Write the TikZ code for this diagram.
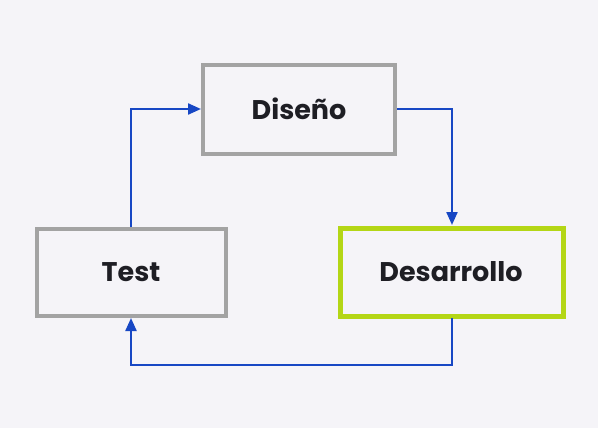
\documentclass[tikz,border=0pt]{standalone}
\usepackage{fontspec}
\setmainfont{Poppins}
\usetikzlibrary{arrows.meta}
\definecolor{bg}{HTML}{F5F4F8}
\definecolor{boxgray}{HTML}{A3A3A3}
\definecolor{limeg}{HTML}{B4D616}
\definecolor{flow}{HTML}{1747C4}
\definecolor{txt}{HTML}{1E1E24}
\tikzset{
  stagebox/.style={draw=boxgray, line width=4pt, fill=bg, inner sep=0pt},
  activebox/.style={draw=limeg, line width=5pt, fill=bg, inner sep=0pt},
  lbl/.style={font=\bfseries\fontsize{27}{32}\selectfont, text=txt},
  flowline/.style={draw=flow, line width=2.2pt, -{Triangle[length=13pt,width=11pt]}}
}
\begin{document}
\begin{tikzpicture}[x=1pt,y=-1pt]
\fill[bg] (0,0) rectangle (598,428);
\useasboundingbox (0,0) rectangle (598,428);
\draw[stagebox] (203,65) rectangle (395,154);
\draw[stagebox] (37,229) rectangle (226,316);
\draw[activebox] (340,228) rectangle (563,316);
\node[lbl] (dis) at (299,109) {Diseño};
\node[lbl] (tst) at (131,272) {Test};
\node[lbl] (des) at (451,272) {Desarrollo};
\coordinate (disL) at (201,109);
\coordinate (disR) at (397,109);
\coordinate (tstT) at (131,227);
\coordinate (tstB) at (131,318);
\coordinate (desT) at (452,225);
\coordinate (desB) at (452,318);
\coordinate (c1) at (131,109);
\coordinate (c2) at (452,109);
\coordinate (c3) at (452,365);
\coordinate (c4) at (131,365);
\draw[flowline] (tstT) -- (c1) -- (disL);
\draw[flowline] (disR) -- (c2) -- (desT);
\draw[flowline] (desB) -- (c3) -- (c4) -- (tstB);
\end{tikzpicture}
\end{document}
